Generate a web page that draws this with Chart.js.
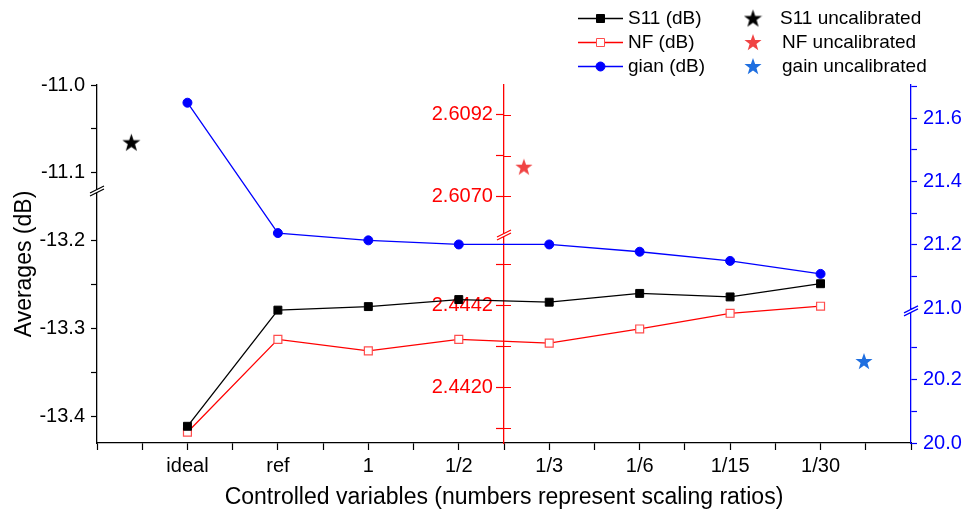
<!DOCTYPE html>
<html>
<head>
<meta charset="utf-8">
<script src="https://cdn.jsdelivr.net/npm/chart.js@4"></script>
<style>
  html, body { margin: 0; padding: 0; background: #fff; }
</style>
</head>
<body>
<canvas id="c" width="979" height="514"></canvas>
<script>
// data
const categories = ['ideal', 'ref', '1', '1/2', '1/3', '1/6', '1/15', '1/30'];
const s11 = [-13.411, -13.279, -13.275, -13.267, -13.270, -13.260, -13.264, -13.249];
const nf = [2.44080, 2.44329, 2.44298, 2.44329, 2.44319, 2.44357, 2.44399, 2.44418];
const gain = [21.649, 21.237, 21.214, 21.201, 21.201, 21.178, 21.149, 21.108];
// uncalibrated points: [position on x axis, value]
const s11Uncal = [-0.62, -11.065];
const nfUncal = [3.72, 2.6078];
const gainUncal = [7.48, 20.259];

// tick labels
const s11Ticks = [-13.4, -13.3, -13.2, -11.1, -11.0];
const s11Minor = [-13.35, -13.25, -11.05];
const nfTicks = [2.4420, 2.4442, 2.6070, 2.6092];
const nfMinor = [2.4409, 2.4431, 2.4453, 2.6081];
const gainTicks = [20.0, 20.2, 21.0, 21.2, 21.4, 21.6];
const gainMinor = [20.1, 20.3, 21.1, 21.3, 21.5, 21.7];

// broken axes: [low, high, fraction start, fraction end]
const s11Segs = [[-13.43, -13.1436, 0, 0.704], [-11.1205, -11.0, 0.704, 1]];
const nfSegs = [[2.44051, 2.44609, 0, 0.581], [2.60596, 2.61, 0.581, 1]];
const gainSegs = [[20.0, 20.417, 0, 0.369], [20.991, 21.705, 0.369, 1]];

function mapper(segs) {
  return v => {
    for (const [lo, hi, f0, f1] of segs) {
      if (v >= lo - 1e-9 && v <= hi + 1e-9) return f0 + (v - lo) / (hi - lo) * (f1 - f0);
    }
    return NaN;
  };
}
const mS11 = mapper(s11Segs), mNF = mapper(nfSegs), mGain = mapper(gainSegs);

function tickList(map, major, minor, dec, pad) {
  const t = major.map(v => ({ value: map(v), txt: v.toFixed(dec) + (pad || '') }))
    .concat(minor.map(v => ({ value: map(v), txt: '' })))
    .filter(t => !isNaN(t.value));
  return t.sort((a, b) => a.value - b.value);
}

function starImg(color, size) {
  const c = document.createElement('canvas');
  c.width = c.height = size;
  const g = c.getContext('2d');
  const cx = size / 2, cy = size / 2 + size * 0.05, R = size / 2, r = R * 0.4;
  g.fillStyle = color;
  g.beginPath();
  for (let i = 0; i < 10; i++) {
    const a = -Math.PI / 2 + i * Math.PI / 5;
    const rad = i % 2 ? r : R;
    g.lineTo(cx + rad * Math.cos(a), cy + rad * Math.sin(a));
  }
  g.closePath();
  g.fill();
  return c;
}
const starK = starImg('#000000', 19);
const starR = starImg('#f04444', 18);
const starB = starImg('#1f6fe0', 18);

const FONT = "'Liberation Sans', Arial, sans-serif";
Chart.defaults.font.family = FONT;
Chart.defaults.color = '#000';

// legend + axis breaks
const extras = {
  id: 'extras',
  afterDraw(chart) {
    const ctx = chart.ctx;
    const ca = chart.chartArea;
    const xs = chart.scales.x;
    // axis breaks
    const breaks = [
      [ca.left, chart.scales.yL.getPixelForValue(s11Segs[0][3]), '#000'],
      [xs.getPixelForValue(3.5), chart.scales.yN.getPixelForValue(nfSegs[0][3]), '#ff0000'],
      [ca.right, chart.scales.yG.getPixelForValue(gainSegs[0][3]), '#0000ff']
    ];
    ctx.save();
    for (const [bx, by, col] of breaks) {
      ctx.fillStyle = '#fff';
      ctx.beginPath();
      ctx.moveTo(bx - 7, by + 2); ctx.lineTo(bx + 7, by - 5);
      ctx.lineTo(bx + 7, by - 2); ctx.lineTo(bx - 7, by + 5);
      ctx.closePath(); ctx.fill();
      ctx.strokeStyle = col; ctx.lineWidth = 1.2;
      ctx.beginPath();
      ctx.moveTo(bx - 7, by + 2); ctx.lineTo(bx + 7, by - 5);
      ctx.moveTo(bx - 7, by + 5); ctx.lineTo(bx + 7, by - 2);
      ctx.stroke();
    }
    // red axis ticks on the right side too
    const yN = chart.scales.yN;
    const ax = xs.getPixelForValue(3.5);
    ctx.strokeStyle = '#ff0000'; ctx.lineWidth = 1.2;
    ctx.beginPath();
    for (const t of yN.ticks) {
      const py = Math.round(yN.getPixelForValue(t.value)) + 0.5;
      ctx.moveTo(ax, py); ctx.lineTo(ax + 7, py);
    }
    ctx.stroke();

    // legend
    const rows = [
      { text: 'S11 (dB)', line: '#000', style: 'rect', fill: '#000', stroke: '#000', sText: 'S11 uncalibrated', star: starK },
      { text: 'NF (dB)', line: '#ff0000', style: 'rect', fill: '#fff', stroke: '#ff4d4d', sText: 'NF uncalibrated', star: starR },
      { text: 'gian (dB)', line: '#0000ff', style: 'circle', fill: '#0000ff', stroke: '#0000ff', sText: 'gain uncalibrated', star: starB }
    ];
    ctx.font = '19px ' + FONT;
    ctx.textBaseline = 'middle';
    ctx.textAlign = 'left';
    rows.forEach((r, i) => {
      const y = 18 + i * 24;
      ctx.strokeStyle = r.line; ctx.lineWidth = 1.3;
      ctx.beginPath(); ctx.moveTo(578, y + 0.5); ctx.lineTo(623, y + 0.5); ctx.stroke();
      ctx.fillStyle = r.fill; ctx.strokeStyle = r.stroke; ctx.lineWidth = 1;
      ctx.beginPath();
      if (r.style === 'rect') ctx.rect(596.5, y - 3.5, 8, 8);
      else ctx.arc(600.5, y + 0.5, 4.5, 0, Math.PI * 2);
      ctx.fill(); ctx.stroke();
      ctx.fillStyle = '#000';
      ctx.fillText(r.text, 628, y + 1);
      ctx.drawImage(r.star, 753 - r.star.width / 2, y - r.star.height / 2);
      ctx.fillText(r.sText, i === 0 ? 780 : 782, y + 1);
    });
    ctx.restore();
  }
};

const xTicks = [];
for (let v = -1; v <= 8; v += 0.5) xTicks.push({ value: v });

function yAxis(opts) {
  return Object.assign({
    type: 'linear', min: 0, max: 1,
    ticks: { callback: (v, i, t) => t[i].txt, autoSkip: false, font: { size: 20 }, padding: 6 },
    grid: { drawOnChartArea: false, tickLength: 6, tickWidth: 1.2 }
  }, opts);
}

new Chart(document.getElementById('c'), {
  type: 'line',
  data: {
    datasets: [
      { label: 'S11 (dB)', yAxisID: 'yL', data: s11.map((v, i) => ({ x: i, y: mS11(v) })),
        borderColor: '#000', borderWidth: 1.3, pointStyle: 'rect', pointRadius: 5.6,
        pointBackgroundColor: '#000', pointBorderColor: '#000', pointBorderWidth: 1 },
      { label: 'NF (dB)', yAxisID: 'yN', data: nf.map((v, i) => ({ x: i, y: mNF(v) })),
        borderColor: '#ff0000', borderWidth: 1.3, pointStyle: 'rect', pointRadius: 5.6,
        pointBackgroundColor: '#fff', pointBorderColor: '#ff4d4d', pointBorderWidth: 1.2 },
      { label: 'gian (dB)', yAxisID: 'yG', data: gain.map((v, i) => ({ x: i, y: mGain(v) })),
        borderColor: '#0000ff', borderWidth: 1.3, pointStyle: 'circle', pointRadius: 4.5,
        pointBackgroundColor: '#0000ff', pointBorderColor: '#0000ff', pointBorderWidth: 1 },
      { label: 'S11 uncalibrated', yAxisID: 'yL', showLine: false, pointStyle: starK,
        data: [{ x: s11Uncal[0], y: mS11(s11Uncal[1]) }] },
      { label: 'NF uncalibrated', yAxisID: 'yN', showLine: false, pointStyle: starR,
        data: [{ x: nfUncal[0], y: mNF(nfUncal[1]) }] },
      { label: 'gain uncalibrated', yAxisID: 'yG', showLine: false, pointStyle: starB,
        data: [{ x: gainUncal[0], y: mGain(gainUncal[1]) }] }
    ]
  },
  options: {
    responsive: false,
    animation: false,
    devicePixelRatio: 1,
    layout: { padding: { top: 85, left: 0, right: 0, bottom: 0 } },
    plugins: { legend: { display: false }, tooltip: { enabled: false } },
    scales: {
      x: {
        type: 'linear', position: 'bottom', min: -1, max: 8,
        afterBuildTicks: s => { s.ticks = xTicks.map(t => ({ value: t.value })); },
        afterFit: s => { s.height = 71; },
        ticks: {
          autoSkip: false, maxRotation: 0, font: { size: 20 }, padding: 4,
          callback: v => (Number.isInteger(v) && v >= 0 && v < categories.length) ? categories[v] : ''
        },
        grid: { drawOnChartArea: false, tickLength: 7, color: '#000', tickWidth: 1.2 },
        border: { color: '#000', width: 1.3 },
        title: { display: true, text: 'Controlled variables (numbers represent scaling ratios)',
          font: { size: 23 }, color: '#000', padding: { top: 0, bottom: 3 } }
      },
      yL: yAxis({
        position: 'left',
        afterBuildTicks: s => { s.ticks = tickList(mS11, s11Ticks, s11Minor, 1); },
        afterFit: s => { s.width = 97; },
        border: { color: '#000', width: 1.3 },
        grid: { drawOnChartArea: false, tickLength: 6, color: '#000', tickWidth: 1.2 },
        ticks: { callback: (v, i, t) => t[i].txt, autoSkip: false, font: { size: 20 }, padding: 6, color: '#000' },
        title: { display: true, text: 'Averages (dB)', font: { size: 23 }, color: '#000', padding: { top: 11, bottom: 0 } }
      }),
      yN: yAxis({
        position: { x: 3.5 },
        afterBuildTicks: s => { s.ticks = tickList(mNF, nfTicks, nfMinor, 4, '  '); },
        border: { color: '#ff0000', width: 1.3 },
        grid: { drawOnChartArea: false, tickLength: 7, color: '#ff0000', tickWidth: 1.2 },
        ticks: { callback: (v, i, t) => t[i].txt, autoSkip: false, font: { size: 20 }, padding: 6, color: '#ff0000' }
      }),
      yG: yAxis({
        position: 'right',
        afterBuildTicks: s => { s.ticks = tickList(mGain, gainTicks, gainMinor, 1); },
        afterFit: s => { s.width = 68; },
        border: { color: '#0000ff', width: 1.3 },
        grid: { drawOnChartArea: false, tickLength: 6, color: '#0000ff', tickWidth: 1.2 },
        ticks: { callback: (v, i, t) => t[i].txt, autoSkip: false, font: { size: 20 }, padding: 6, color: '#0000ff' }
      })
    }
  },
  plugins: [extras]
});
</script>
</body>
</html>
